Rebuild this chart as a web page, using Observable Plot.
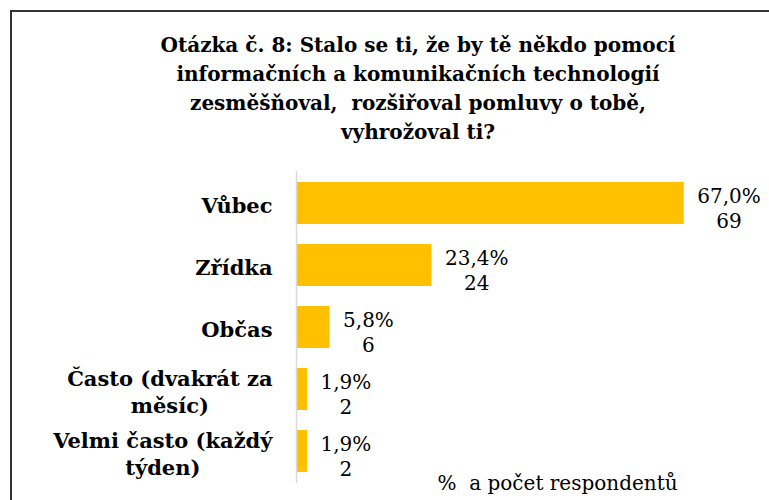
<!DOCTYPE html>
<html>
<head>
<meta charset="utf-8">
<script src="https://cdn.jsdelivr.net/npm/d3@7"></script>
<script src="https://cdn.jsdelivr.net/npm/@observablehq/plot@0.6"></script>
<style>
  html, body { margin: 0; padding: 0; background: #fff; }
  #wrap { position: relative; width: 769px; height: 500px; overflow: hidden; background: #fff; }
  #border { position: absolute; left: 10px; top: 10px; width: 800px; height: 520px;
            border-left: 2px solid #333; border-top: 2px solid #333; box-sizing: border-box; }
  #title { position: absolute; left: 118px; width: 600px; top: 31px; text-align: center;
           font: bold 20px "DejaVu Serif", serif; line-height: 29px; color: #000; }
  #chart { position: absolute; left: 0; top: 145px; }
</style>
</head>
<body>
<div id="wrap">
  <div id="border"></div>
  <div id="title">Otázka č. 8: Stalo se ti, že by tě někdo pomocí<br>informačních a komunikačních technologií<br>zesměšňoval,&nbsp; rozšiřoval pomluvy o tobě,<br>vyhrožoval ti?</div>
  <div id="chart"></div>
</div>
<script>
const categories = ["Vůbec", "Zřídka", "Občas", "Často (dvakrát za\nměsíc)", "Velmi často (každý\ntýden)"];
const percents = [67.0, 23.4, 5.8, 1.9, 1.9];
const counts = [69, 24, 6, 2, 2];
const caption = "%  a počet respondentů";

const data = categories.map((c, i) => ({
  cat: c,
  pct: percents[i],
  n: counts[i],
  label: percents[i].toFixed(1).replace(".", ",") + "%\n" + counts[i]
}));

const chart = Plot.plot({
  width: 769,
  height: 355,
  marginTop: 26,
  marginBottom: 17,
  marginLeft: 296,
  marginRight: 10,
  x: { domain: [0, 80], axis: null },
  y: { domain: categories, axis: null, paddingInner: 0.315, paddingOuter: 0.16 },
  style: { background: "transparent" },
  marks: [
    Plot.barX(data, { x: "pct", y: "cat", fill: "#FFC000" }),
    Plot.ruleX([0], { stroke: "#d9d9d9", strokeWidth: 1.5 }),
    Plot.text(data, {
      x: "pct", y: "cat", text: "label", textAnchor: "start", dx: 13, dy: 4,
      fontSize: 20, lineHeight: 1.25, fontFamily: "DejaVu Serif", fill: "#000"
    }),
    Plot.text(data, {
      y: "cat", text: "cat", frameAnchor: "left", textAnchor: "end", dx: -24, dy: 1,
      fontSize: 21, fontWeight: "bold", lineHeight: 1.29, fontFamily: "DejaVu Serif", fill: "#000"
    }),
    Plot.text([caption], {
      frameAnchor: "bottom-left", lineAnchor: "middle", textAnchor: "start", dx: 141,
      fontSize: 20, fontFamily: "DejaVu Serif", fill: "#000"
    })
  ]
});
document.getElementById("chart").appendChild(chart);

// center the lines of multi-line labels within their block
const textGroups = chart.querySelectorAll('g[aria-label="text"]');
function centerLines(group, anchor) {
  group.querySelectorAll("text").forEach(t => {
    const spans = t.querySelectorAll("tspan");
    if (spans.length < 2) return;
    let maxW = 0;
    spans.forEach(s => { maxW = Math.max(maxW, s.getComputedTextLength()); });
    const cx = anchor === "end" ? -maxW / 2 : maxW / 2;
    t.setAttribute("text-anchor", "middle");
    spans.forEach(s => s.setAttribute("x", cx));
  });
}
centerLines(textGroups[0], "start");
centerLines(textGroups[1], "end");
</script>
</body>
</html>
